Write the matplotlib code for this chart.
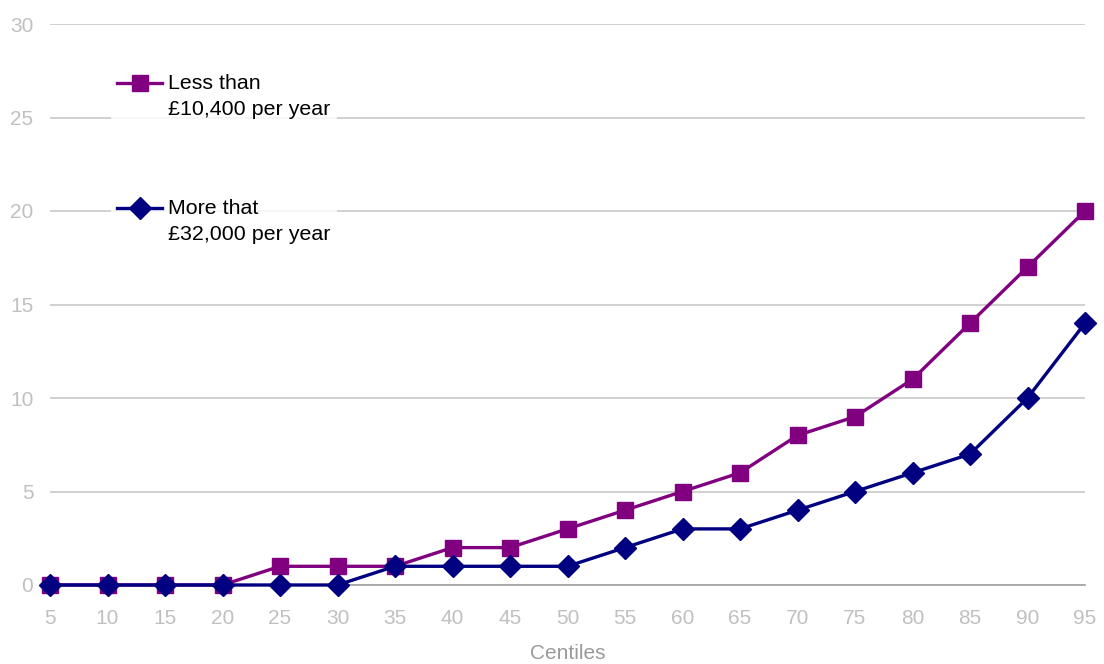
import matplotlib
matplotlib.use("Agg")
import matplotlib.pyplot as plt
from matplotlib.lines import Line2D

plt.rcParams['font.family'] = ['Liberation Sans', 'DejaVu Sans']

centiles = [5, 10, 15, 20, 25, 30, 35, 40, 45, 50, 55, 60, 65, 70, 75, 80, 85, 90, 95]
less_than = [0, 0, 0, 0, 1, 1, 1, 2, 2, 3, 4, 5, 6, 8, 9, 11, 14, 17, 20]
more_that = [0, 0, 0, 0, 0, 0, 1, 1, 1, 1, 2, 3, 3, 4, 5, 6, 7, 10, 14]
yticks = [0, 5, 10, 15, 20, 25, 30]
label_less = "Less than\n£10,400 per year"
label_more = "More that\n£32,000 per year"

purple = '#800080'
navy = '#000080'
grey_txt = '#c0c0c0'

fig = plt.figure(figsize=(11.04, 6.64), dpi=100)
ax = fig.add_axes([50/1104, 1-585/664, (1085-50)/1104, (585-24)/664])

ax.plot(centiles, less_than, color=purple, lw=2.4, marker='s', ms=12,
        clip_on=False, zorder=3)
ax.plot(centiles, more_that, color=navy, lw=2.4, marker='D', ms=11,
        clip_on=False, zorder=4)

ax.set_xlim(5, 95)
ax.set_ylim(0, 30)
ax.set_xticks(centiles)
ax.set_yticks(yticks)
ax.yaxis.grid(True, color='#c8c8c8', lw=1.2)
ax.set_axisbelow(True)
for s in ['top', 'right', 'left']:
    ax.spines[s].set_visible(False)
ax.spines['bottom'].set_color('#a0a0a0')
ax.spines['bottom'].set_linewidth(1.2)
ax.tick_params(axis='both', length=0, labelsize=15, labelcolor=grey_txt)
ax.tick_params(axis='y', pad=12)
ax.tick_params(axis='x', pad=17)
ax.set_xlabel('Centiles', fontsize=15, color='#9a9a9a', labelpad=12)

handles = [Line2D([], [], color=purple, lw=2.4, marker='s', ms=12),
           Line2D([], [], color=navy, lw=2.4, marker='D', ms=11)]
leg = ax.legend(handles, [label_less, label_more], loc='upper left',
                bbox_to_anchor=(100/1104, 1-57/664), bbox_transform=fig.transFigure,
                frameon=True, fontsize=15.4, labelspacing=3.75, handlelength=2.1,
                handletextpad=0.3, borderpad=0.3, fancybox=False)
leg.get_frame().set_edgecolor('none')
leg.get_frame().set_facecolor('white')
for t in leg.get_texts():
    t.set_linespacing(1.45)
# align handles with the first line of each label
for h in leg.legend_handles:
    yd = h.get_ydata()
    h.set_ydata([y + 10 for y in yd])

fig.savefig('out.png', dpi=100)
